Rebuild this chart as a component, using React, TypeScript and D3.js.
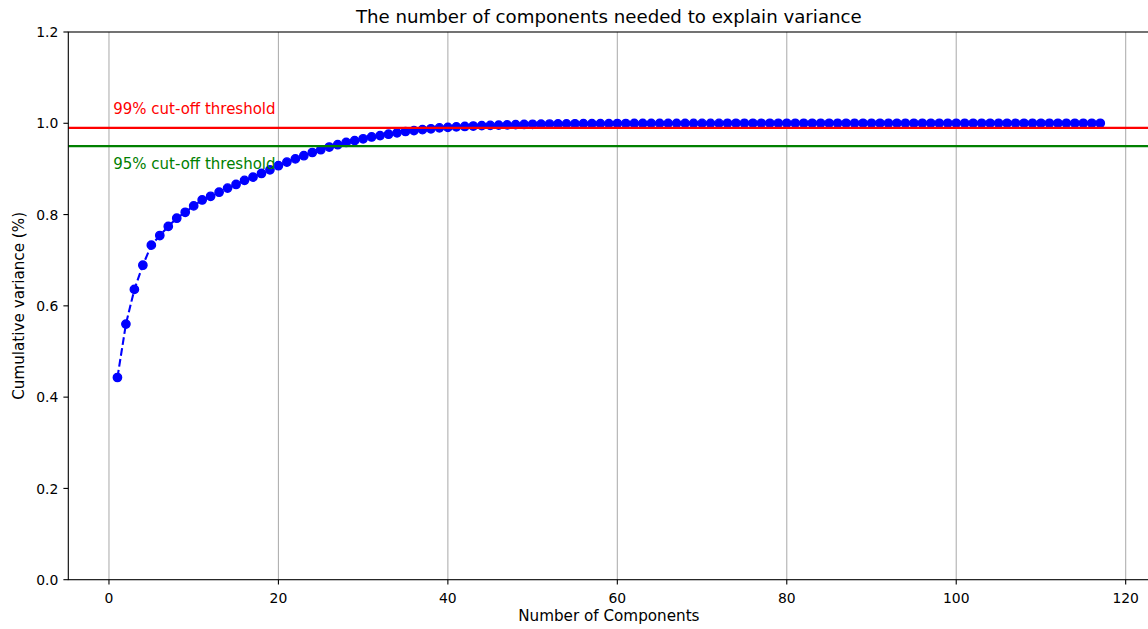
import React, { useEffect, useRef } from "react";
import * as d3 from "d3";

// cumulative explained variance for each component
const cumVariance = [
  0.443, 0.560, 0.636, 0.689, 0.733, 0.754, 0.774, 0.792, 0.805, 0.819,
  0.832, 0.840, 0.849, 0.858, 0.866, 0.875, 0.882, 0.890, 0.898, 0.907,
  0.915, 0.922, 0.929, 0.936, 0.942, 0.948, 0.953, 0.958, 0.962, 0.966,
  0.970, 0.973, 0.976, 0.979, 0.982, 0.984, 0.986, 0.988, 0.990, 0.991,
  0.992, 0.993, 0.994, 0.995, 0.9955, 0.996, 0.9965, 0.997, 0.9974, 0.9978,
  0.998, 0.9983, 0.9985, 0.9987, 0.9989, 0.999, 0.9991, 0.9992, 0.9993, 0.9994,
  0.9995, 0.9996, 0.9996, 0.9997, 0.9997, 0.9998, 0.9998, 0.9998, 0.9999, 0.9999,
  0.9999, 0.9999, 1, 1, 1, 1, 1, 1, 1, 1,
  1, 1, 1, 1, 1, 1, 1, 1, 1, 1,
  1, 1, 1, 1, 1, 1, 1, 1, 1, 1,
  1, 1, 1, 1, 1, 1, 1, 1, 1, 1,
  1, 1, 1, 1, 1, 1, 1,
];
const components = cumVariance.map((_, i) => i + 1);

const xTicks = [0, 20, 40, 60, 80, 100, 120];
const yTicks = [0.0, 0.2, 0.4, 0.6, 0.8, 1.0, 1.2];

const thresholds = [
  { value: 0.99, label: "99% cut-off threshold", labelY: 1.02, color: "#ff0000" },
  { value: 0.95, label: "95% cut-off threshold", labelY: 0.9, color: "#008000" },
];

const FONT = "DejaVu Sans, sans-serif";

export default function App() {
  const ref = useRef<SVGSVGElement>(null);

  useEffect(() => {
    const width = 1148,
      height = 629;
    const left = 68.3,
      right = 1149.4,
      top = 32,
      bottom = 579.7;

    const svg = d3.select(ref.current);
    svg.selectAll("*").remove();
    svg.attr("width", width).attr("height", height);

    const x = d3.scaleLinear().domain([-4.8, 122.8]).range([left, right]);
    const y = d3.scaleLinear().domain([0, 1.2]).range([bottom, top]);

    svg.append("rect").attr("width", width).attr("height", height).attr("fill", "#fff");

    // vertical grid only
    svg
      .append("g")
      .selectAll("line")
      .data(xTicks)
      .join("line")
      .attr("x1", (d) => x(d))
      .attr("x2", (d) => x(d))
      .attr("y1", top)
      .attr("y2", bottom)
      .attr("stroke", "#b0b0b0")
      .attr("stroke-width", 1.1);

    // dashed line + markers
    const line = d3
      .line<number>()
      .x((_, i) => x(components[i]))
      .y((d) => y(d));

    svg
      .append("path")
      .datum(cumVariance)
      .attr("d", line)
      .attr("fill", "none")
      .attr("stroke", "#0000ff")
      .attr("stroke-width", 2.08)
      .attr("stroke-dasharray", "7.7,3.33");

    svg
      .append("g")
      .selectAll("circle")
      .data(cumVariance)
      .join("circle")
      .attr("cx", (_, i) => x(components[i]))
      .attr("cy", (d) => y(d))
      .attr("r", 4.17)
      .attr("fill", "#0000ff")
      .attr("stroke", "#0000ff")
      .attr("stroke-width", 1.39);

    // threshold lines and labels
    thresholds.forEach((t) => {
      svg
        .append("line")
        .attr("x1", left)
        .attr("x2", right)
        .attr("y1", y(t.value))
        .attr("y2", y(t.value))
        .attr("stroke", t.color)
        .attr("stroke-width", 2.08);
      svg
        .append("text")
        .attr("x", x(0.5))
        .attr("y", y(t.labelY))
        .attr("fill", t.color)
        .style("font-family", FONT)
        .style("font-size", "15px")
        .text(t.label);
    });

    // spines
    svg
      .append("rect")
      .attr("x", left)
      .attr("y", top)
      .attr("width", right - left)
      .attr("height", bottom - top)
      .attr("fill", "none")
      .attr("stroke", "#000")
      .attr("stroke-width", 1.1);

    // x ticks
    const gx = svg.append("g");
    gx.selectAll("line")
      .data(xTicks)
      .join("line")
      .attr("x1", (d) => x(d))
      .attr("x2", (d) => x(d))
      .attr("y1", bottom)
      .attr("y2", bottom + 4.9)
      .attr("stroke", "#000")
      .attr("stroke-width", 1.1);
    gx.selectAll("text")
      .data(xTicks)
      .join("text")
      .attr("x", (d) => x(d))
      .attr("y", 602.5)
      .attr("text-anchor", "middle")
      .style("font-family", FONT)
      .style("font-size", "13.9px")
      .text((d) => String(d));

    // y ticks
    const gy = svg.append("g");
    gy.selectAll("line")
      .data(yTicks)
      .join("line")
      .attr("x1", left - 4.9)
      .attr("x2", left)
      .attr("y1", (d) => y(d))
      .attr("y2", (d) => y(d))
      .attr("stroke", "#000")
      .attr("stroke-width", 1.1);
    gy.selectAll("text")
      .data(yTicks)
      .join("text")
      .attr("x", left - 10)
      .attr("y", (d) => y(d) + 5.1)
      .attr("text-anchor", "end")
      .style("font-family", FONT)
      .style("font-size", "13.9px")
      .text((d) => d3.format(".1f")(d));

    // labels and title
    svg
      .append("text")
      .attr("x", (left + right) / 2)
      .attr("y", 621)
      .attr("text-anchor", "middle")
      .style("font-family", FONT)
      .style("font-size", "15.2px")
      .text("Number of Components");

    svg
      .append("text")
      .attr("transform", `translate(23.8, ${(top + bottom) / 2}) rotate(-90)`)
      .attr("text-anchor", "middle")
      .style("font-family", FONT)
      .style("font-size", "15.2px")
      .text("Cumulative variance (%)");

    svg
      .append("text")
      .attr("x", (left + right) / 2)
      .attr("y", 23)
      .attr("text-anchor", "middle")
      .style("font-family", FONT)
      .style("font-size", "18.2px")
      .text("The number of components needed to explain variance");
  }, []);

  return <svg ref={ref} style={{ position: "absolute", left: 0, top: 0 }} />;
}
